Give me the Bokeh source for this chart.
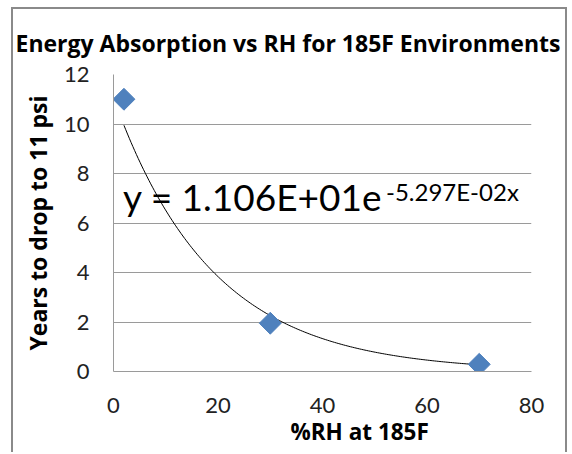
import numpy as np
from bokeh.plotting import figure
from bokeh.models import Label, FixedTicker, Range1d, ColumnDataSource, Title
from bokeh.embed import file_html
from bokeh.resources import INLINE

# data
rh = [2, 30, 70]
years = [11.0, 1.95, 0.29]
fit_a = 11.06
fit_b = -0.05297
x_ticks = [0, 20, 40, 60, 80]
y_ticks = [0, 2, 4, 6, 8, 10, 12]
title = "Energy Absorption vs RH for 185F Environments"
x_title = "%RH at 185F"
y_title = "Years to drop to 11 psi"
eq_main = "y = 1.106E+01e"
eq_sup = "-5.297E-02x"

FONT = "Lato"
TFONT = "Open Sans"
GRID = "#9a9a9a"
BORDER = "2px solid #8a8a8a"

p = figure(width=556, height=445, output_backend="svg", toolbar_location=None,
           x_range=Range1d(0, 80), y_range=Range1d(0, 12),
           min_border_left=100, min_border_right=38, min_border_top=64, min_border_bottom=83,
           margin=(7, 0, 0, 11),
           styles={"border-left": BORDER, "border-top": BORDER, "border-right": BORDER})
p.background_fill_color = "white"
p.border_fill_color = "white"
p.outline_line_color = None

p.xgrid.grid_line_color = None
p.ygrid.grid_line_color = GRID
p.ygrid.grid_line_width = 1

for ax in (p.xaxis[0], p.yaxis[0]):
    ax.axis_line_color = GRID
    ax.axis_line_width = 1
    ax.major_tick_line_color = None
    ax.minor_tick_line_color = None
    ax.major_tick_out = 0
    ax.major_tick_in = 0
    ax.minor_tick_out = 0
    ax.major_label_text_font = FONT
    ax.major_label_text_font_size = "22px"
    ax.major_label_text_color = "#222222"

p.xaxis.ticker = FixedTicker(ticks=x_ticks)
p.yaxis.ticker = FixedTicker(ticks=y_ticks)
p.xaxis.major_label_standoff = 26
p.yaxis.major_label_standoff = 24

p.yaxis.axis_label = y_title
p.yaxis.axis_label_text_font = TFONT
p.yaxis.axis_label_text_font_size = "23px"
p.yaxis.axis_label_text_font_style = "bold"
p.yaxis.axis_label_text_color = "black"
p.yaxis.axis_label_standoff = 7

# trendline
tx = np.linspace(min(rh), max(rh), 200)
ty = fit_a * np.exp(fit_b * tx)
p.line(tx, ty, line_color="black", line_width=1)

# markers
src = ColumnDataSource(dict(x=rh, y=years))
p.scatter("x", "y", source=src, marker="square", angle=np.pi / 4, size=15.5,
          fill_color="#4F81BD", line_color="#4F81BD")

# equation
p.add_layout(Label(x=9.5, y=175, x_units="screen", y_units="screen", text=eq_main,
                   text_font=FONT, text_font_size="37px", text_color="black",
                   text_baseline="middle", text_align="left"))
p.add_layout(Label(x=272.5, y=180, x_units="screen", y_units="screen", text=eq_sup,
                   text_font=FONT, text_font_size="24px", text_color="black",
                   text_baseline="middle", text_align="left"))

# titles
p.add_layout(Title(text=title, align="left", offset=-98, text_font=TFONT,
                   text_font_size="23px", text_font_style="bold", text_color="black",
                   standoff=31), "above")
p.add_layout(Title(text=x_title, align="left", offset=177, text_font=TFONT,
                   text_font_size="22.5px", text_font_style="bold", text_color="black",
                   standoff=-4), "below")

open("out.html", "w").write(file_html(p, INLINE))
